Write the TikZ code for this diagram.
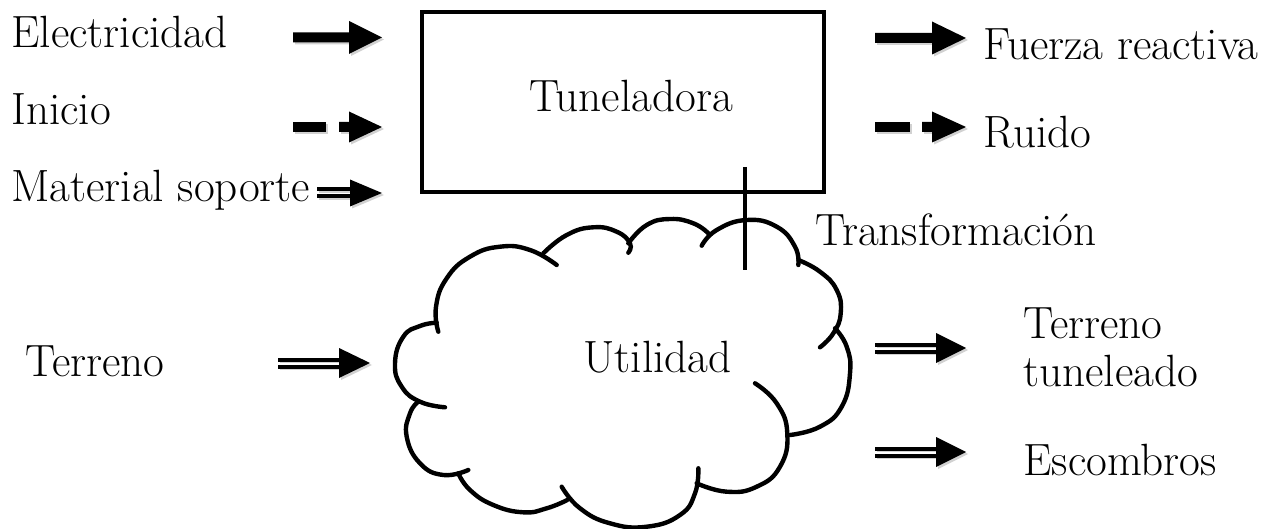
\documentclass[tikz,border=0pt]{standalone}
\begin{document}
\begin{tikzpicture}[x=0.5pt,y=-0.5pt,
  lbl/.style={inner sep=0pt,font=\fontsize{22.6}{26}\selectfont},
  boxstyle/.style={draw,line width=2.2pt,inner sep=0pt,minimum width=201pt,minimum height=90pt},
  cloudline/.style={line width=2.2pt,line cap=round},
  arrfill/.style={fill=black},
  arrshadow/.style={fill=black,opacity=0.18},
  tline/.style={line width=2.2pt}]
\useasboundingbox (0,0) rectangle (1273,529);

% block arrow macros (x start, head base, tip, y, half head)
\newcommand\solidarr[5]{%
  \fill[arrshadow] (#1+2,#4-3) -- (#2+2,#4-3) -- (#2+2,#4-#5+2) -- (#3+2,#4+2) -- (#2+2,#4+#5+2) -- (#2+2,#4+7) -- (#1+2,#4+7) -- cycle;
  \fill[arrfill] (#1,#4-5) -- (#2,#4-5) -- (#2,#4-#5) -- (#3,#4) -- (#2,#4+#5) -- (#2,#4+5) -- (#1,#4+5) -- cycle;}
\newcommand\dasharr[6]{% x start, dash end, second start, head base, tip, y
  \fill[arrshadow] (#1+2,#6-3) rectangle (#2+2,#6+7);
  \fill[arrshadow] (#3+2,#6-3) -- (#4+2,#6-3) -- (#4+2,#6-13.5) -- (#5+2,#6+2) -- (#4+2,#6+17.5) -- (#4+2,#6+7) -- (#3+2,#6+7) -- cycle;
  \fill[arrfill] (#1,#6-5) rectangle (#2,#6+5);
  \fill[arrfill] (#3,#6-5) -- (#4,#6-5) -- (#4,#6-15.5) -- (#5,#6) -- (#4,#6+15.5) -- (#4,#6+5) -- (#3,#6+5) -- cycle;}
\newcommand\dblarr[5]{% x start, head base, tip, y, half head
  \fill[arrshadow] (#1+2,#4-4) rectangle (#2+2,#4);
  \fill[arrshadow] (#1+2,#4+3) rectangle (#2+2,#4+7);
  \fill[arrshadow] (#2+2,#4-#5+2) -- (#3+2,#4+2) -- (#2+2,#4+#5+2) -- cycle;
  \fill[arrfill] (#1,#4-5.5) rectangle (#2+1,#4-1.5);
  \fill[arrfill] (#1,#4+1.5) rectangle (#2+1,#4+5.5);
  \fill[arrfill] (#2,#4-#5) -- (#3,#4) -- (#2,#4+#5) -- cycle;}

% box
\node[boxstyle] (tun) at (623,102) {};
\node[lbl,anchor=base] (tunlbl) at (631,112) {Tuneladora};

% left labels
\node[lbl,anchor=base west] (elec) at (11,48) {Electricidad};
\node[lbl,anchor=base west] (ini) at (11,125) {Inicio};
\node[lbl,anchor=base west] (mat) at (11,202) {Material soporte};
\node[lbl,anchor=base west] (ter) at (25,376) {Terreno};

% right labels
\node[lbl,anchor=base west] (fue) at (983,60) {Fuerza reactiva};
\node[lbl,anchor=base west] (rui) at (983,148) {Ruido};
\node[lbl,anchor=base west] (tra) at (815,245) {Transformación};
\node[lbl,anchor=base west] (tt1) at (1023,338) {Terreno};
\node[lbl,anchor=base west] (tt2) at (1023,386) {tuneleado};
\node[lbl,anchor=base west] (esc) at (1023,475) {Escombros};

% arrows
\solidarr{293}{349}{382}{37.5}{16.5}
\dasharr{293}{326}{339}{349}{382}{127}
\dblarr{317}{350}{382}{193}{13.5}
\dblarr{278}{339}{370}{363}{15}
\solidarr{875}{932}{966}{38}{16.5}
\dasharr{875}{910}{922}{932}{966}{127}
\dblarr{875}{936}{966}{348}{15}
\dblarr{875}{936}{966}{452}{15}

% cloud
\draw[cloudline] plot[smooth,tension=0.8] coordinates {(438.3,331.7) (436,306.7) (446.7,278.3) (470,256.7) (500,246.7) (530,250) (556.7,265)};
\draw[cloudline] plot[smooth,tension=0.8] coordinates {(543.3,253.3) (566.7,235) (593.3,227.3) (616.7,231.7) (630,243.3) (628.3,252.7)};
\draw[cloudline] plot[smooth,tension=0.8] coordinates {(628.3,243.3) (646.7,225) (670,219) (693.3,223.3) (708.3,233.3)};
\draw[cloudline] plot[smooth,tension=0.8] coordinates {(701.7,245.7) (716.7,230) (746.7,220) (776.7,226.7) (795,246.7) (798.3,265)};
\draw[cloudline] plot[smooth,tension=0.8] coordinates {(798.3,260) (820,271.7) (836.7,290) (840.7,313.3) (833.3,333.3) (820,347.3)};
\draw[cloudline] plot[smooth,tension=0.8] coordinates {(835,328.3) (846.7,346.7) (850,373.3) (841.7,406.7) (820,426.7) (790,435)};
\draw[cloudline] plot[smooth,tension=0.8] coordinates {(755,383.3) (776.7,403.3) (787.3,433.3) (780,466.7) (756.7,486.7) (726.7,491.7) (696.7,483.3)};
\draw[cloudline] plot[smooth,tension=0.8] coordinates {(698.3,468.3) (695,493.3) (680,515) (646.7,526.7) (610,523.3) (580,508.3) (561.7,486.7)};
\draw[cloudline] plot[smooth,tension=0.8] coordinates {(567.3,500) (546.7,508.3) (523.3,512.3) (493.3,505) (470,490) (458.3,473.3)};
\draw[cloudline] plot[smooth,tension=0.8] coordinates {(468.3,470) (443.3,475) (420,463.3) (406.7,436.7) (410,413.3) (418.3,401.7)};
\draw[cloudline] plot[smooth,tension=0.8] coordinates {(445,407.3) (420,401.7) (401.7,386.7) (395,363.3) (403.3,336.7) (420,326) (436.7,322.7)};
\node[lbl,anchor=base west] (uti) at (583,372) {Utilidad};

% transformation line
\coordinate (t1) at (745,167);
\coordinate (t2) at (745,270);
\draw[tline] (t1) -- (t2);
\end{tikzpicture}
\end{document}
